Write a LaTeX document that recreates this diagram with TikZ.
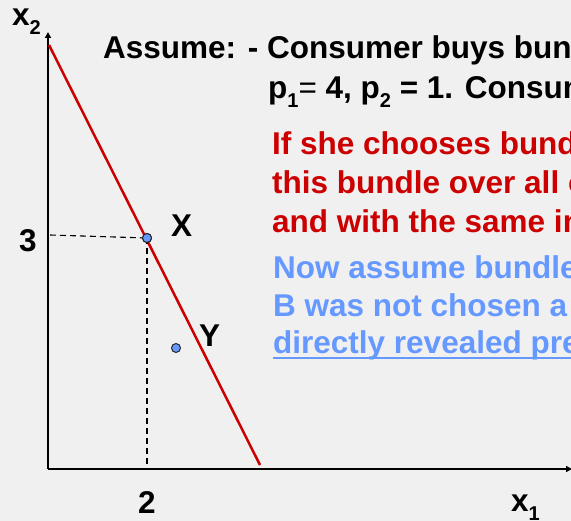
\documentclass[tikz,border=0pt]{standalone}
\usepackage{fontspec}
\setmainfont{Liberation Sans}
\usetikzlibrary{arrows.meta}
\definecolor{bg}{RGB}{240,240,240}
\definecolor{budgetred}{RGB}{204,0,0}
\definecolor{softblue}{RGB}{102,153,255}
\newcommand\mysub[1]{\raisebox{-0.28em}{\fontsize{20}{20}\selectfont #1}}
\begin{document}
\begin{tikzpicture}[x=1pt,y=-1pt,
  txt/.style={anchor=base west, inner sep=0pt, font=\fontsize{31.5}{36}\selectfont\bfseries},
  axis/.style={line width=2.2pt, -{Triangle[length=6pt,width=6pt]}},
  guide/.style={line width=1.1pt, dash pattern=on 6pt off 4pt},
  budget/.style={line width=2.5pt, budgetred},
  bundle/.style={circle, draw=black!85, line width=1pt, fill=softblue, inner sep=0pt, minimum size=9pt}]
\useasboundingbox (0,0) rectangle (571,521);
\clip (0,0) rectangle (571,521);
\fill[bg] (0,0) rectangle (571,521);

% axes
\coordinate (O) at (48,469);
\coordinate (ytop) at (48,32);
\coordinate (xend) at (572,469);
\draw[axis] (O) -- (ytop);
\draw[axis] (O) -- (xend);

% budget line
\coordinate (b1) at (49,45);
\coordinate (b2) at (260,465);
\draw[budget] (b1) -- (b2);

% guides
\coordinate (g3) at (50,235);
\coordinate (g2) at (147,469);
\node[bundle] (ptX) at (147,238) {};
\node[bundle] (ptY) at (176,348) {};
\draw[guide] (g3) -- (ptX.center);
\draw[guide] (ptX.center) -- (g2);
\node[bundle] at (ptX) {};

% axis labels
\node[txt] (lx2) at (12,26) {x\mysub{2}};
\node[txt] (lx1) at (511,512) {x\mysub{1}};
\node[txt] (l3) at (19,252) {3};
\node[txt] (l2) at (138,514) {2};
\node[txt] (lX) at (171,237) {X};
\node[txt] (lY) at (199,347) {Y};

% text
\node[txt] (t1) at (103,59) {Assume: - Consumer buys bun};
\node[txt] (t2) at (268,99) {p\mysub{1}{\mdseries=} 4, p\mysub{2} = 1. Consum};
\node[txt, text=budgetred] (r1) at (272,155) {If she chooses bund};
\node[txt, text=budgetred] (r2) at (272,194) {this bundle over all o};
\node[txt, text=budgetred] (r3) at (272,233) {and with the same in};
\node[txt, text=softblue] (s1) at (273,279) {Now assume bundle};
\node[txt, text=softblue] (s2) at (273,317) {B was not chosen a};
\node[txt, text=softblue] (s3) at (273,354) {directly revealed pre};
\draw[softblue, line width=2pt] ([yshift=-4pt]s3.base west) -- ([yshift=-4pt]s3.base east);
\end{tikzpicture}
\end{document}
